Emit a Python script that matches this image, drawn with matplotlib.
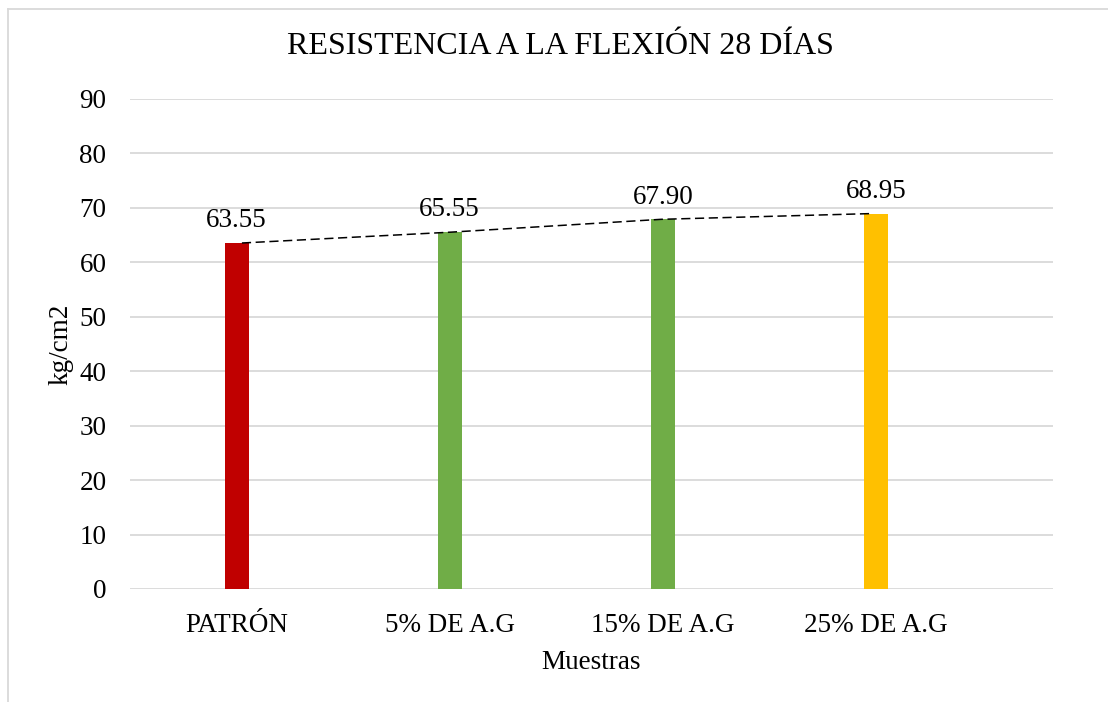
import numpy as np
import matplotlib
matplotlib.use("Agg")
import matplotlib.pyplot as plt
from matplotlib.lines import Line2D

plt.rcParams['font.family'] = ['Liberation Serif', 'DejaVu Serif']

muestras = ['PATRÓN', '5% DE A.G', '15% DE A.G', '25% DE A.G']
resistencia = [63.55, 65.55, 67.90, 68.95]
etiquetas = ['63.55', '65.55', '67.90', '68.95']
colores = ['#C00000', '#70AD47', '#70AD47', '#FFC000']

W, H = 1108, 702
fig = plt.figure(figsize=(W / 100, H / 100), dpi=100)
ax = fig.add_axes([130 / W, 1 - 589 / H, (1053 - 130) / W, (589 - 99) / H])

x = np.arange(len(muestras))
ax.bar(x, resistencia, width=0.112, color=colores, zorder=3)

# dashed line joining the values (slightly inset like the original)
xl = 0.025 + x * (len(x) - 1 - 0.05) / (len(x) - 1)
ax.plot(xl, resistencia, color='black', lw=1.1, ls=(0, (6, 3)), zorder=4)

for xi, v, t in zip(x, resistencia, etiquetas):
    ax.annotate(t, (xi, v), xytext=(0, 7), textcoords='offset points',
                ha='center', va='bottom', fontsize=19.5)

ax.set_xlim(-0.5, 3.83)
ax.set_ylim(0, 90)
ax.set_yticks(range(0, 91, 10))
ax.set_xticks(x)
ax.set_xticklabels(muestras)
ax.tick_params(axis='both', length=0, labelsize=19.5)
ax.tick_params(axis='y', pad=17)
ax.tick_params(axis='x', pad=17)
ax.grid(axis='y', color='#D9D9D9', lw=1.3, zorder=0)
for s in ax.spines.values():
    s.set_visible(False)

ax.set_xlabel('Muestras', fontsize=19.5, labelpad=9)
ax.set_ylabel('kg/cm2', fontsize=19.5, labelpad=4)
fig.text(560 / W, 1 - 47 / H, 'RESISTENCIA A LA FLEXIÓN 28 DÍAS',
         ha='center', va='center', fontsize=23)

# outer chart border (top and left visible)
fig.add_artist(Line2D([8 / W, 8 / W], [1 - 9 / H, 0], transform=fig.transFigure,
                      color='#D9D9D9', lw=1.3))
fig.add_artist(Line2D([8 / W, 1], [1 - 9 / H, 1 - 9 / H], transform=fig.transFigure,
                      color='#D9D9D9', lw=1.3))

fig.savefig('out.png', dpi=100, facecolor='white')
